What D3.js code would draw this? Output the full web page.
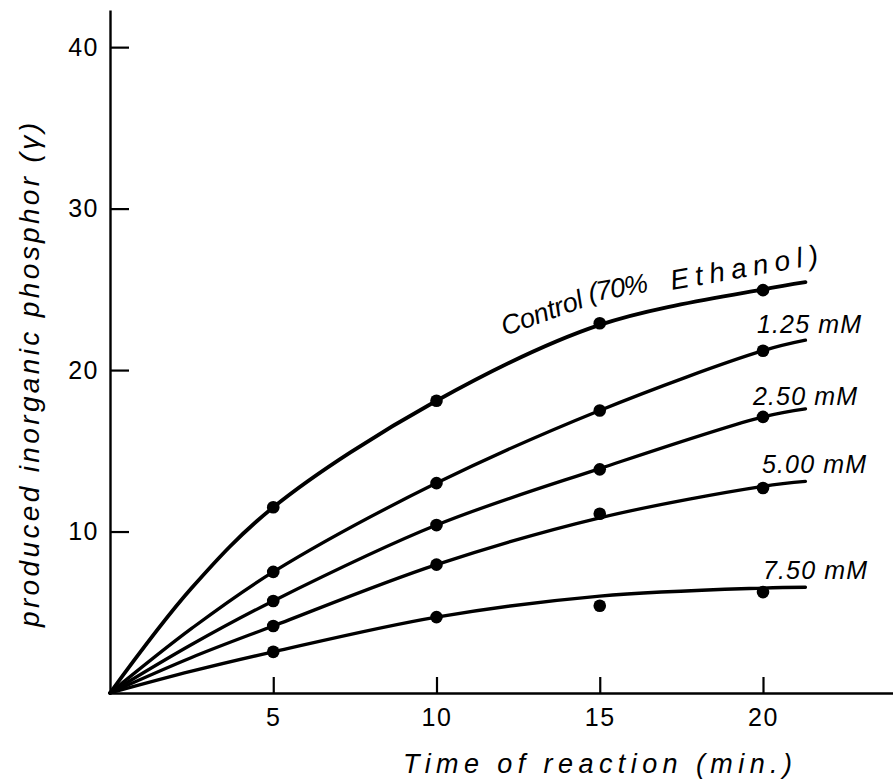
<!DOCTYPE html>
<html>
<head>
<meta charset="utf-8">
<script src="https://cdnjs.cloudflare.com/ajax/libs/d3/7.8.5/d3.min.js"></script>
<style>
    body { margin: 0; background: #fff; }
    svg { display: block; }
</style>
</head>
<body>
<div id="chart"></div>
<script>
// measured points (min, gamma)
var times = [5, 10, 15, 20];
var control = [11.5, 18.1, 22.9, 24.95];
var mM125 = [7.5, 13.0, 17.5, 21.2];
var mM250 = [5.7, 10.4, 13.85, 17.1];
var mM500 = [4.15, 7.95, 11.1, 12.7];
var mM750 = [2.55, 4.7, 5.4, 6.25];

// hand drawn curves
var curveTimes = [0, 2.5, 5, 10, 15, 20, 21.3];
var controlCurve = [0, 6.5, 11.5, 18.1, 22.8, 25.0, 25.45];
var curve125 = [0, 4.0, 7.5, 13.0, 17.5, 21.2, 21.85];
var curve250 = [0, 3.0, 5.7, 10.4, 13.9, 17.1, 17.6];
var curve500 = [0, 2.2, 4.15, 7.95, 10.85, 12.8, 13.1];
var curve750 = [0, 1.35, 2.55, 4.7, 6.0, 6.5, 6.55];

var xTicks = [5, 10, 15, 20];
var yTicks = [10, 20, 30, 40];
var seriesNames = ["Control (70% Ethanol)", "1.25 mM", "2.50 mM", "5.00 mM", "7.50 mM"];

var width = 893, height = 780;
var italic = '"Liberation Sans", Arial, sans-serif';

var svg = d3.select('#chart').append('svg')
    .attr('width', width)
    .attr('height', height);

var x = d3.scaleLinear().domain([0, 24]).range([110, 893.6]);
var y = d3.scaleLinear().domain([0, 42.3]).range([693, 10]);

var series = [
    { name: seriesNames[0], pts: control, curve: controlCurve, w: 3.8 },
    { name: seriesNames[1], pts: mM125, curve: curve125, w: 3.3 },
    { name: seriesNames[2], pts: mM250, curve: curve250, w: 3.3 },
    { name: seriesNames[3], pts: mM500, curve: curve500, w: 3.3 },
    { name: seriesNames[4], pts: mM750, curve: curve750, w: 3.3 }
];

// axes
var xAxis = svg.append('g')
    .attr('transform', 'translate(0,' + y(0) + ')')
    .call(d3.axisBottom(x).tickValues(xTicks).tickSizeInner(-16).tickSizeOuter(0).tickPadding(15));

var yAxis = svg.append('g')
    .attr('transform', 'translate(' + x(0) + ',0)')
    .call(d3.axisLeft(y).tickValues(yTicks).tickSizeInner(-19).tickSizeOuter(0).tickPadding(11));

[xAxis, yAxis].forEach(function (a) {
    a.select('.domain').attr('stroke', '#000').attr('stroke-width', 2.4);
    a.selectAll('.tick line').attr('stroke', '#000').attr('stroke-width', 2.2);
    a.selectAll('.tick text')
        .attr('fill', '#000')
        .attr('font-family', '"Liberation Sans", Arial, sans-serif')
        .attr('font-size', 25)
        .attr('letter-spacing', 1.5);
});

// curves
var line = d3.line()
    .x(function (d) { return x(d[0]); })
    .y(function (d) { return y(d[1]); })
    .curve(d3.curveCatmullRom.alpha(0.5));

svg.append('g').selectAll('path')
    .data(series)
    .enter()
    .append('path')
    .attr('fill', 'none')
    .attr('stroke', '#000')
    .attr('stroke-linecap', 'round')
    .attr('stroke-width', function (d) { return d.w; })
    .attr('d', function (d) {
        return line(curveTimes.map(function (t, i) { return [t, d.curve[i]]; }));
    });

// dots
series.forEach(function (s) {
    svg.append('g').selectAll('circle')
        .data(s.pts)
        .enter()
        .append('circle')
        .attr('cx', function (d, i) { return x(times[i]); })
        .attr('cy', function (d) { return y(d); })
        .attr('r', 6.3)
        .attr('fill', '#000');
});

// control label, in three pieces so it bends along the curve
// [x, y, angle, font size, letter spacing]
var ctrlParts = ["Control", "(70%", "Ethanol)"];
var ctrlPos = [[505, 336, -20, 27, -0.3], [590, 302, -10, 27, -1], [672, 290, -10, 28, 6.5]];
ctrlParts.forEach(function (p, i) {
    var c = ctrlPos[i];
    svg.append('text')
        .attr('transform', 'translate(' + c[0] + ',' + c[1] + ') rotate(' + c[2] + ')')
        .attr('font-family', italic)
        .attr('font-style', 'italic')
        .attr('font-size', c[3])
        .attr('letter-spacing', c[4])
        .attr('fill', '#000')
        .text(p);
});

// concentration labels
var labelPos = [null, [757, 333], [753, 405], [762, 473], [763, 579]];
series.forEach(function (s, i) {
    if (!labelPos[i]) return;
    svg.append('text')
        .attr('x', labelPos[i][0])
        .attr('y', labelPos[i][1])
        .attr('font-family', italic)
        .attr('font-style', 'italic')
        .attr('font-size', 25)
        .attr('textLength', 104)
        .attr('lengthAdjust', 'spacing')
        .attr('fill', '#000')
        .text(s.name);
});

// axis titles
svg.append('text')
    .attr('x', 403)
    .attr('y', 773)
    .attr('font-family', italic)
    .attr('font-style', 'italic')
    .attr('font-size', 27)
    .attr('textLength', 389)
    .attr('lengthAdjust', 'spacing')
    .attr('fill', '#000')
    .text('Time of reaction (min.)');

svg.append('text')
    .attr('transform', 'translate(39,627) rotate(-90)')
    .attr('font-family', italic)
    .attr('font-style', 'italic')
    .attr('font-size', 28)
    .attr('textLength', 504)
    .attr('lengthAdjust', 'spacing')
    .attr('fill', '#000')
    .text('produced inorganic phosphor (\u03b3)');
</script>
</body>
</html>
